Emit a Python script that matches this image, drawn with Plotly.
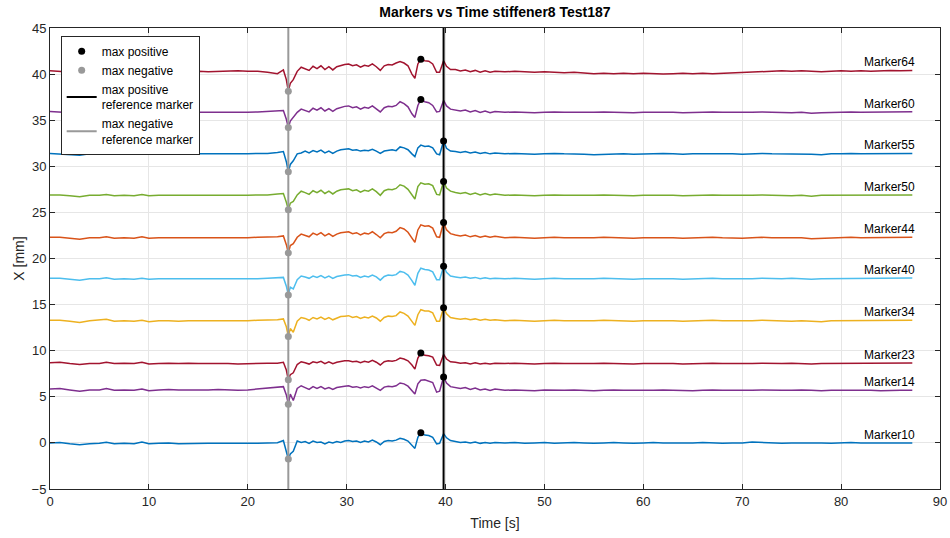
import numpy as np
import plotly.graph_objects as go

# time axis [s]
T = [0, 1, 2, 3, 4, 5, 5.7, 6.5, 7.5, 8.5, 9.3, 10, 11, 12, 13, 14, 15, 16, 17, 18, 19, 20, 21, 22, 23,
     23.6, 23.9, 24.1, 24.3, 24.6,
     25, 25.4, 25.8, 26.2, 26.6, 27, 27.4, 27.8, 28.2, 28.6, 29, 29.4, 29.8, 30.2, 30.6,
     31, 31.4, 31.8, 32.2, 32.6, 33, 33.4, 33.8, 34.2, 34.6, 35, 35.4, 35.8, 36.2, 36.6,
     36.9, 37.2, 37.5, 37.9, 38.3, 38.7, 39.1, 39.4, 39.8, 40.1, 40.5,
     41, 41.5, 42, 42.5, 43, 43.5, 44, 44.5, 45,
     46, 47, 48, 49, 50, 51, 52, 53, 54, 55, 56, 57, 58, 59, 60, 61, 62, 63, 64, 65,
     66, 67, 68, 69, 70, 71, 72, 73, 74, 75, 76, 77, 78, 79, 80, 81, 82, 83, 84, 85,
     86, 87.2]

marker_names = ["Marker10", "Marker14", "Marker23", "Marker34", "Marker40",
                "Marker44", "Marker50", "Marker55", "Marker60", "Marker64"]
marker_colors = ["#0072BD", "#7E2F8E", "#A2142F", "#EDB120", "#4DBEEE",
                 "#D95319", "#77AC30", "#0072BD", "#7E2F8E", "#A2142F"]
reference_marker = "Marker55"

marker10 = [0.0, 0.05, -0.1, -0.2, -0.1, -0.05, 0.08, -0.1, -0.05, -0.08, 0.1, -0.1, -0.05, -0.02, -0.08, -0.05, 0.0, -0.05, -0.03, -0.05, -0.02, -0.05, -0.03, 0.0, 0.02,
            0.25, -0.8, -1.75, -1.2, -0.9,
            0.2, 0.05, 0.15, -0.05, 0.2, 0.05, 0.1, -0.1, 0.1, 0.0, 0.15, 0.05, 0.2, 0.25, 0.15,
            0.2, 0.05, 0.2, 0.1, 0.3, 0.1, -0.2, 0.15, 0.25, 0.2, 0.3, 0.5, 0.4, 0.2, -0.2,
            -0.6, 0.6, 1.1, 0.85, 0.8, 0.6, -0.1, -0.05, 1.0, 0.55, 0.25,
            0.15, 0.05, 0.1, 0.0, 0.1, -0.05, 0.05, -0.05, 0.05,
            0.0, 0.05, -0.05, 0.0, 0.05, -0.05, 0.0, 0.05, 0.0, -0.05, 0.0, 0.05, 0.0, -0.05, 0.0, 0.05, 0.0, 0.0, -0.05, 0.0,
            0.05, 0.0, -0.05, 0.0, 0.0, 0.1, 0.05, 0.0, -0.05, 0.0, 0.0, 0.05, 0.0, -0.05, 0.0, 0.05, 0.0, 0.0, -0.05, 0.0,
            0.02, 0.0]
marker14 = [5.85, 5.9, 5.75, 5.6, 5.75, 5.75, 5.9, 5.7, 5.75, 5.7, 5.85, 5.65, 5.75, 5.8, 5.75, 5.75, 5.7, 5.75, 5.8, 5.75, 5.7, 5.75, 5.85, 5.9, 6.05,
            6.1, 5.2, 4.2, 5.3, 4.6,
            5.9, 6.2, 6.0, 5.8, 6.1, 5.9, 6.1, 5.85, 6.0, 5.8, 6.0, 6.1, 6.15, 6.2, 6.05,
            6.1, 5.95, 6.1, 6.0, 6.2, 5.95, 5.7, 6.05, 6.15, 6.1, 6.2, 6.5, 6.4, 6.15, 5.7,
            5.3, 6.4, 6.8, 6.85, 6.7, 6.55, 5.5, 5.6, 7.15, 6.5, 6.1,
            6.0, 5.9, 6.0, 5.8, 5.95, 5.75, 5.85, 5.7, 5.85,
            5.7, 5.75, 5.7, 5.65, 5.75, 5.7, 5.7, 5.75, 5.7, 5.65, 5.7, 5.75, 5.7, 5.7, 5.65, 5.7, 5.75, 5.7, 5.7, 5.65,
            5.7, 5.75, 5.7, 5.7, 5.65, 5.7, 5.75, 5.7, 5.7, 5.7, 5.75, 5.7, 5.65, 5.7, 5.7, 5.75, 5.7, 5.7, 5.65, 5.7,
            5.7, 5.72]
marker23 = [8.7, 8.75, 8.6, 8.5, 8.6, 8.6, 8.75, 8.6, 8.65, 8.6, 8.75, 8.55, 8.6, 8.65, 8.6, 8.65, 8.6, 8.6, 8.65, 8.6, 8.55, 8.6, 8.6, 8.65, 8.65,
            8.75, 7.9, 6.85, 7.4, 7.6,
            8.5, 8.8, 8.7, 8.55, 8.8, 8.7, 8.85, 8.6, 8.8, 8.6, 8.75, 8.85, 8.9, 8.9, 8.8,
            8.85, 8.7, 8.85, 8.75, 8.95, 8.75, 8.45, 8.8, 8.9, 8.85, 8.95, 9.2, 9.1, 8.9, 8.45,
            8.0, 9.2, 9.75, 9.5, 9.45, 9.3, 8.45, 8.4, 9.6, 9.1, 8.8,
            8.75, 8.65, 8.7, 8.55, 8.7, 8.55, 8.65, 8.55, 8.65,
            8.6, 8.65, 8.6, 8.55, 8.6, 8.65, 8.6, 8.6, 8.55, 8.6, 8.65, 8.6, 8.6, 8.55, 8.6, 8.6, 8.65, 8.6, 8.55, 8.6,
            8.6, 8.65, 8.6, 8.6, 8.55, 8.6, 8.65, 8.6, 8.6, 8.65, 8.6, 8.55, 8.6, 8.6, 8.65, 8.6, 8.6, 8.65, 8.6, 8.65,
            8.65, 8.66]
marker34 = [13.3, 13.3, 13.2, 13.05, 13.25, 13.3, 13.4, 13.2, 13.25, 13.2, 13.3, 13.15, 13.25, 13.25, 13.2, 13.25, 13.25, 13.2, 13.25, 13.25, 13.2, 13.25, 13.3, 13.3, 13.35,
            13.45, 12.6, 11.55, 12.4, 12.0,
            13.2, 13.6, 13.5, 13.3, 13.6, 13.45, 13.65, 13.4, 13.6, 13.35, 13.55, 13.7, 13.75, 13.8, 13.6,
            13.7, 13.5, 13.65, 13.55, 13.75, 13.55, 13.2, 13.6, 13.75, 13.7, 13.8, 14.2, 14.05, 13.75, 13.2,
            12.75, 13.9, 14.45, 14.3, 14.3, 14.1, 13.2, 13.2, 14.65, 14.0, 13.6,
            13.5, 13.4, 13.5, 13.35, 13.45, 13.3, 13.4, 13.3, 13.35,
            13.25, 13.3, 13.25, 13.2, 13.25, 13.3, 13.25, 13.25, 13.2, 13.25, 13.3, 13.25, 13.25, 13.2, 13.25, 13.25, 13.3, 13.25, 13.2, 13.25,
            13.25, 13.3, 13.25, 13.25, 13.2, 13.25, 13.3, 13.25, 13.25, 13.2, 13.25, 13.2, 13.15, 13.25, 13.25, 13.3, 13.25, 13.25, 13.25, 13.3,
            13.25, 13.3]
marker40 = [17.85, 17.85, 17.75, 17.65, 17.8, 17.8, 17.9, 17.75, 17.8, 17.75, 17.85, 17.75, 17.8, 17.8, 17.75, 17.8, 17.8, 17.75, 17.8, 17.8, 17.75, 17.8, 17.8, 17.85, 17.9,
            17.95, 17.0, 16.05, 16.9, 16.7,
            17.7, 18.1, 18.0, 17.85, 18.1, 17.95, 18.15, 17.9, 18.1, 17.85, 18.05, 18.15, 18.2, 18.25, 18.1,
            18.15, 17.95, 18.1, 18.0, 18.2, 18.0, 17.65, 18.05, 18.2, 18.15, 18.25, 18.6, 18.5, 18.2, 17.6,
            17.1, 18.4, 18.95, 18.8, 18.75, 18.55, 17.7, 17.7, 19.15, 18.5, 18.1,
            18.0, 17.9, 18.0, 17.85, 17.95, 17.8, 17.9, 17.8, 17.85,
            17.8, 17.85, 17.8, 17.75, 17.8, 17.85, 17.8, 17.8, 17.75, 17.8, 17.85, 17.8, 17.8, 17.75, 17.8, 17.8, 17.85, 17.8, 17.75, 17.8,
            17.8, 17.85, 17.8, 17.8, 17.75, 17.8, 17.85, 17.8, 17.8, 17.85, 17.8, 17.75, 17.8, 17.8, 17.85, 17.8, 17.8, 17.85, 17.8, 17.85,
            17.85, 17.88]
marker44 = [22.3, 22.3, 22.2, 22.1, 22.25, 22.25, 22.35, 22.2, 22.25, 22.2, 22.35, 22.2, 22.25, 22.25, 22.2, 22.25, 22.25, 22.2, 22.25, 22.25, 22.2, 22.25, 22.3, 22.3, 22.35,
            22.45, 21.5, 20.6, 21.4, 21.6,
            22.3, 22.65, 22.5, 22.35, 22.75, 22.55, 22.8, 22.45, 22.7, 22.4, 22.65, 22.8, 22.85, 22.9, 22.7,
            22.8, 22.55, 22.75, 22.65, 22.9, 22.6, 22.25, 22.7, 22.85, 22.8, 22.95, 23.35, 23.2, 22.85, 22.2,
            21.75, 23.1, 23.65, 23.5, 23.55, 23.3, 22.35, 22.3, 23.9, 23.1, 22.7,
            22.55, 22.45, 22.55, 22.35, 22.5, 22.3, 22.45, 22.3, 22.4,
            22.25, 22.3, 22.25, 22.2, 22.25, 22.3, 22.25, 22.25, 22.2, 22.25, 22.3, 22.25, 22.25, 22.2, 22.25, 22.25, 22.3, 22.25, 22.2, 22.25,
            22.25, 22.3, 22.25, 22.2, 22.2, 22.25, 22.3, 22.25, 22.25, 22.2, 22.25, 22.15, 22.2, 22.25, 22.25, 22.3, 22.25, 22.25, 22.25, 22.3,
            22.3, 22.3]
marker50 = [26.9, 26.9, 26.8, 26.7, 26.85, 26.85, 26.95, 26.8, 26.85, 26.8, 26.95, 26.8, 26.85, 26.85, 26.8, 26.85, 26.85, 26.8, 26.85, 26.85, 26.8, 26.85, 26.9, 26.9, 27.0,
            27.05, 26.1, 25.3, 26.0, 26.2,
            26.9, 27.3, 27.15, 26.95, 27.35, 27.15, 27.4, 27.05, 27.3, 27.0, 27.3, 27.45, 27.5, 27.55, 27.35,
            27.45, 27.2, 27.4, 27.3, 27.55, 27.25, 26.85, 27.35, 27.5, 27.45, 27.6, 28.0, 27.85, 27.5, 26.85,
            26.45, 27.8, 28.2, 28.05, 28.1, 27.9, 26.95, 26.9, 28.35, 27.65, 27.3,
            27.15, 27.05, 27.15, 26.95, 27.1, 26.9, 27.05, 26.9, 27.0,
            26.85, 26.9, 26.85, 26.8, 26.85, 26.9, 26.85, 26.85, 26.8, 26.85, 26.9, 26.85, 26.85, 26.8, 26.85, 26.85, 26.9, 26.85, 26.8, 26.85,
            26.85, 26.9, 26.85, 26.85, 26.8, 26.85, 26.9, 26.85, 26.85, 26.8, 26.85, 26.75, 26.85, 26.85, 26.85, 26.9, 26.85, 26.85, 26.85, 26.9,
            26.9, 26.9]
marker55 = [31.4, 31.35, 31.3, 31.2, 31.35, 31.35, 31.45, 31.3, 31.35, 31.3, 31.45, 31.3, 31.35, 31.35, 31.3, 31.35, 31.35, 31.3, 31.35, 31.35, 31.3, 31.35, 31.4, 31.4, 31.5,
            31.6, 30.5, 29.4, 30.2, 30.6,
            31.35, 31.45, 31.65, 31.45, 31.7, 31.55, 31.75, 31.45, 31.65, 31.4, 31.65, 31.8, 31.85, 31.9, 31.75,
            31.8, 31.65, 31.75, 31.7, 31.85, 31.65, 31.4, 31.65, 31.75, 31.8, 31.7, 32.1, 32.0, 31.8, 31.35,
            31.05, 32.0, 32.3, 32.15, 32.2, 32.0, 31.35, 31.25, 32.75, 31.95, 31.65,
            31.6, 31.5, 31.6, 31.45, 31.55, 31.4, 31.5, 31.35, 31.45,
            31.35, 31.4, 31.35, 31.3, 31.35, 31.4, 31.35, 31.35, 31.3, 31.25, 31.3, 31.35, 31.35, 31.3, 31.35, 31.35, 31.4, 31.35, 31.3, 31.35,
            31.35, 31.4, 31.35, 31.35, 31.3, 31.35, 31.4, 31.35, 31.35, 31.3, 31.35, 31.3, 31.25, 31.35, 31.35, 31.4, 31.35, 31.35, 31.35, 31.4,
            31.4, 31.4]
marker60 = [35.95, 35.9, 35.85, 35.75, 35.85, 35.85, 35.95, 35.8, 35.85, 35.8, 35.9, 35.8, 35.85, 35.85, 35.8, 35.85, 35.85, 35.8, 35.85, 35.85, 35.8, 35.85, 35.9, 35.95, 36.0,
            36.05, 35.1, 34.2, 34.9, 35.3,
            35.85, 36.2, 36.05, 35.9, 36.3, 36.1, 36.35, 36.0, 36.25, 35.95, 36.25, 36.4, 36.5, 36.55, 36.35,
            36.45, 36.2, 36.4, 36.3, 36.55, 36.25, 35.9, 36.35, 36.5, 36.45, 36.6, 37.0, 36.8, 36.45, 35.7,
            35.3, 36.6, 37.25, 37.0, 36.9, 36.6, 35.9, 35.95, 37.15, 36.55, 36.2,
            36.1, 36.0, 36.1, 35.9, 36.05, 35.85, 36.0, 35.8, 35.95,
            35.85, 35.9, 35.85, 35.8, 35.85, 35.9, 35.85, 35.85, 35.8, 35.85, 35.9, 35.85, 35.85, 35.8, 35.85, 35.85, 35.9, 35.85, 35.8, 35.85,
            35.85, 35.9, 35.85, 35.85, 35.8, 35.85, 35.9, 35.85, 35.85, 35.8, 35.85, 35.75, 35.8, 35.85, 35.85, 35.9, 35.85, 35.85, 35.85, 35.9,
            35.9, 35.92]
marker64 = [40.35, 40.3, 40.25, 40.15, 40.25, 40.3, 40.4, 40.25, 40.3, 40.25, 40.35, 40.25, 40.3, 40.3, 40.25, 40.3, 40.3, 40.25, 40.3, 40.35, 40.35, 40.3, 40.3, 40.2, 40.05,
            40.45, 39.4, 38.15, 39.0, 39.4,
            40.3, 40.75, 40.55, 40.4, 40.85, 40.6, 40.9, 40.5, 40.8, 40.45, 40.8, 40.95, 41.05, 41.1, 40.9,
            41.0, 40.75, 40.95, 40.85, 41.1, 40.8, 40.4, 40.9, 41.05, 41.0, 41.2, 41.35, 41.2, 40.9, 40.0,
            39.55, 41.1, 41.6, 41.45, 41.4, 41.1, 40.2, 40.2, 41.45, 40.85, 40.5,
            40.5, 40.35, 40.45, 40.25, 40.4, 40.2, 40.35, 40.2, 40.3,
            40.25, 40.3, 40.25, 40.2, 40.25, 40.2, 40.15, 40.2, 40.1, 40.05, 40.1, 40.05, 40.1, 40.05, 40.1, 40.05, 40.0, 40.05, 40.1, 40.05,
            40.1, 40.05, 40.1, 40.15, 40.2, 40.25, 40.3, 40.3, 40.35, 40.3, 40.35, 40.3, 40.25, 40.3, 40.35, 40.3, 40.35, 40.3, 40.35, 40.4,
            40.35, 40.4]

series = [marker10, marker14, marker23, marker34, marker40,
          marker44, marker50, marker55, marker60, marker64]

for name, s in zip(marker_names, series):
    if len(s) != len(T):
        raise ValueError(f"{name}: {len(s)} values vs {len(T)} times")

FONT = "Liberation Sans, Arial, Helvetica, sans-serif"
fig = go.Figure()

t = np.array(T)
for name, color, s in zip(marker_names, marker_colors, series):
    fig.add_trace(go.Scatter(x=t, y=s, mode="lines", line=dict(color=color, width=1.5),
                             name=name, showlegend=False))
    fig.add_annotation(x=t[-1], y=s[-1], text=name, showarrow=False,
                       xanchor="right", yanchor="bottom", xshift=5, yshift=-1,
                       font=dict(family=FONT, size=12, color="#000000"))

ref = np.array(series[marker_names.index(reference_marker)])
t_pos = t[int(np.argmax(ref))]
t_neg = t[int(np.argmin(ref))]

fig.add_trace(go.Scatter(x=[t_pos, t_pos], y=[-5, 45], mode="lines",
                         line=dict(color="#000000", width=2),
                         name="max positive<br>reference marker", legendrank=3))
fig.add_trace(go.Scatter(x=[t_neg, t_neg], y=[-5, 45], mode="lines",
                         line=dict(color="#999999", width=2),
                         name="max negative<br>reference marker", legendrank=4))

pos_x, pos_y, neg_x, neg_y = [], [], [], []
for s in series:
    a = np.array(s)
    pos_x.append(t[int(np.argmax(a))]); pos_y.append(a.max())
    neg_x.append(t[int(np.argmin(a))]); neg_y.append(a.min())

fig.add_trace(go.Scatter(x=pos_x, y=pos_y, mode="markers",
                         marker=dict(color="#000000", size=7),
                         name="max positive", legendrank=1))
fig.add_trace(go.Scatter(x=neg_x, y=neg_y, mode="markers",
                         marker=dict(color="#999999", size=7),
                         name="max negative", legendrank=2))

axis_common = dict(showgrid=True, gridcolor="#e6e6e6", gridwidth=1,
                   showline=True, linecolor="#262626", linewidth=1, mirror="ticks",
                   ticks="inside", ticklen=5, tickcolor="#262626",
                   tickfont=dict(family=FONT, size=13, color="#262626"),
                   zeroline=False, automargin=False)

fig.update_layout(
    width=950, height=538,
    margin=dict(l=50, r=10, t=28, b=49, autoexpand=False),
    paper_bgcolor="white", plot_bgcolor="white",
    title=dict(text="<b>Markers vs Time stiffener8 Test187</b>", x=0.521, xanchor="center",
               y=0.978, yanchor="middle",
               font=dict(family=FONT, size=14, color="#000000")),
    xaxis=dict(range=[0, 90], tick0=0, dtick=10,
               title=dict(text="Time [s]", font=dict(family=FONT, size=14, color="#262626"), standoff=10),
               **axis_common),
    yaxis=dict(range=[-5, 45], tick0=-5, dtick=5,
               title=dict(text="X [mm]", font=dict(family=FONT, size=14, color="#262626"), standoff=3),
               **axis_common),
    legend=dict(x=0.012, y=0.983, xanchor="left", yanchor="top",
                bgcolor="white", bordercolor="#262626", borderwidth=1,
                font=dict(family=FONT, size=12, color="#000000"),
                itemwidth=30, tracegroupgap=0),
    showlegend=True,
)

# remove the default 8px page margin so the figure fills the window exactly
fig.write_html("out.html", config={"displayModeBar": False},
               post_script="document.body.style.margin='0px';")
